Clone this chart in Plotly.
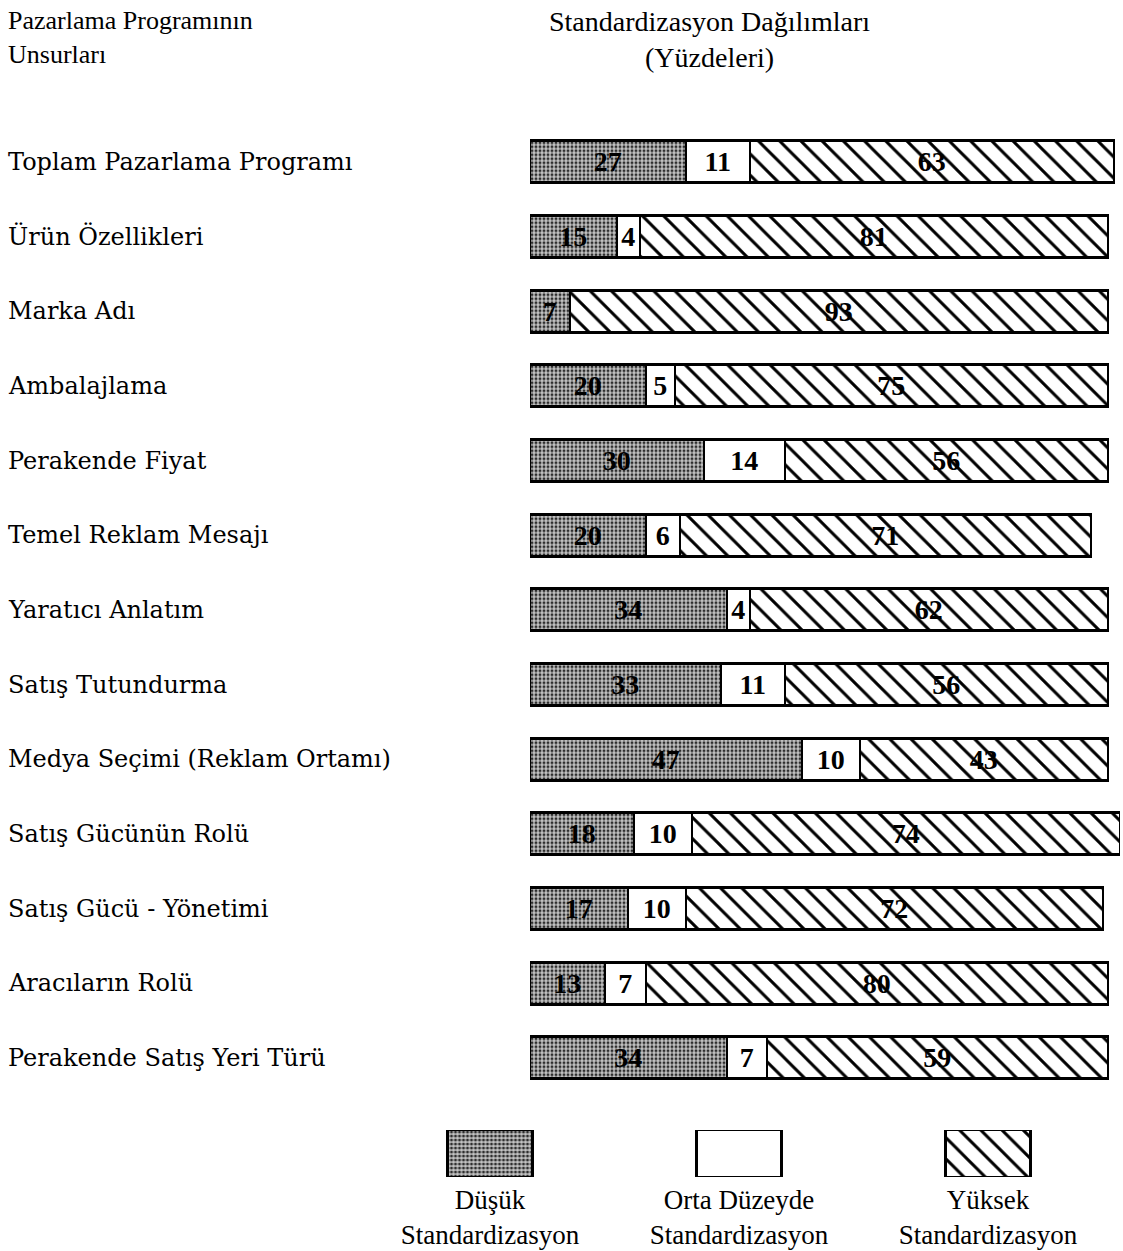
import plotly.graph_objects as go

# Marketing program elements and their standardization distribution (%)
elements = [
    "Toplam Pazarlama Programı",
    "Ürün Özellikleri",
    "Marka Adı",
    "Ambalajlama",
    "Perakende Fiyat",
    "Temel Reklam Mesajı",
    "Yaratıcı Anlatım",
    "Satış Tutundurma",
    "Medya Seçimi (Reklam Ortamı)",
    "Satış Gücünün Rolü",
    "Satış Gücü - Yönetimi",
    "Aracıların Rolü",
    "Perakende Satış Yeri Türü",
]
low = [27, 15, 7, 20, 30, 20, 34, 33, 47, 18, 17, 13, 34]
medium = [11, 4, None, 5, 14, 6, 4, 11, 10, 10, 10, 7, 7]
high = [63, 81, 93, 75, 56, 71, 62, 56, 43, 74, 72, 80, 59]

series_names = ["Düşük Standardizasyon", "Orta Düzeyde Standardizasyon", "Yüksek Standardizasyon"]
legend_labels = ["Düşük<br>Standardizasyon", "Orta Düzeyde<br>Standardizasyon", "Yüksek<br>Standardizasyon"]

W, H = 1123, 1251
SERIF = "Liberation Serif"
WIDE_SERIF = "DejaVu Serif"

patterns = [
    dict(shape=".", bgcolor="#c4c4c4", fgcolor="#2e2e2e", size=4, solidity=0.45, fillmode="replace"),
    dict(shape="", bgcolor="white", fgcolor="white"),
    dict(shape="\\", bgcolor="white", fgcolor="black", size=15, solidity=0.2, fillmode="replace"),
]
fills = ["#c4c4c4", "white", "white"]

fig = go.Figure()

for name, vals, pat, fc in zip(series_names, [low, medium, high], patterns, fills):
    fig.add_trace(go.Bar(
        y=elements, x=vals, orientation="h", name=name,
        marker=dict(color=fc, pattern=pat, line=dict(color="black", width=2.5)),
        width=0.56,
        text=["" if v is None else str(v) for v in vals],
        textposition="inside", insidetextanchor="middle",
        textangle=0, constraintext="none",
        textfont=dict(family=SERIF, size=28, color="black", weight="bold"),
        showlegend=False, xaxis="x", yaxis="y",
    ))

# Legend key boxes drawn as a small categorical subplot below the chart
for name, pat, fc in zip(series_names, patterns, fills):
    fig.add_trace(go.Bar(
        x=[name], y=[1], width=0.34,
        marker=dict(color=fc, pattern=pat, line=dict(color="black", width=2.5)),
        showlegend=False, xaxis="x2", yaxis="y2", hoverinfo="skip",
    ))

row_top, row_bot = 124.7, 1095.3
x_left, x_right = 530, 1120

fig.update_layout(
    width=W, height=H,
    margin=dict(l=0, r=0, t=0, b=0),
    paper_bgcolor="white", plot_bgcolor="white",
    barmode="stack", bargap=0,
    font=dict(family=SERIF, color="black"),
    xaxis=dict(domain=[x_left / W, x_right / W], range=[0, 102], visible=False, fixedrange=True),
    yaxis=dict(domain=[1 - row_bot / H, 1 - row_top / H], range=[12.5, -0.5],
               type="category", visible=False),
    xaxis2=dict(domain=[365.5 / W, 1112.5 / W], range=[-0.5, 2.5], type="category",
                tickmode="array", tickvals=series_names, ticktext=legend_labels,
                showline=False, ticks="", showgrid=False, zeroline=False,
                tickfont=dict(family=SERIF, size=27, color="black"),
                anchor="y2", ticklabelstandoff=4),
    yaxis2=dict(domain=[1 - 1177 / H, 1 - 1130 / H], range=[0, 1], visible=False, anchor="x2"),
)

annotations = []
for el in elements:
    annotations.append(dict(
        x=6 / W, xref="paper", y=el, yref="y", text=el, showarrow=False,
        xanchor="left", yanchor="middle", font=dict(family=WIDE_SERIF, size=24, color="black"),
    ))
annotations.append(dict(
    x=6 / W, xref="paper", y=1 - 4 / H, yref="paper", yanchor="top", xanchor="left",
    text="Pazarlama Programının<br>Unsurları", align="left", showarrow=False,
    font=dict(family=SERIF, size=26, color="black"),
))
annotations.append(dict(
    x=709 / W, xref="paper", y=1 - 4 / H, yref="paper", yanchor="top", xanchor="center",
    text="Standardizasyon Dağılımları<br>(Yüzdeleri)", align="center", showarrow=False,
    font=dict(family=SERIF, size=28, color="black"),
))
fig.update_layout(annotations=annotations)

fig.write_html("out.html")
